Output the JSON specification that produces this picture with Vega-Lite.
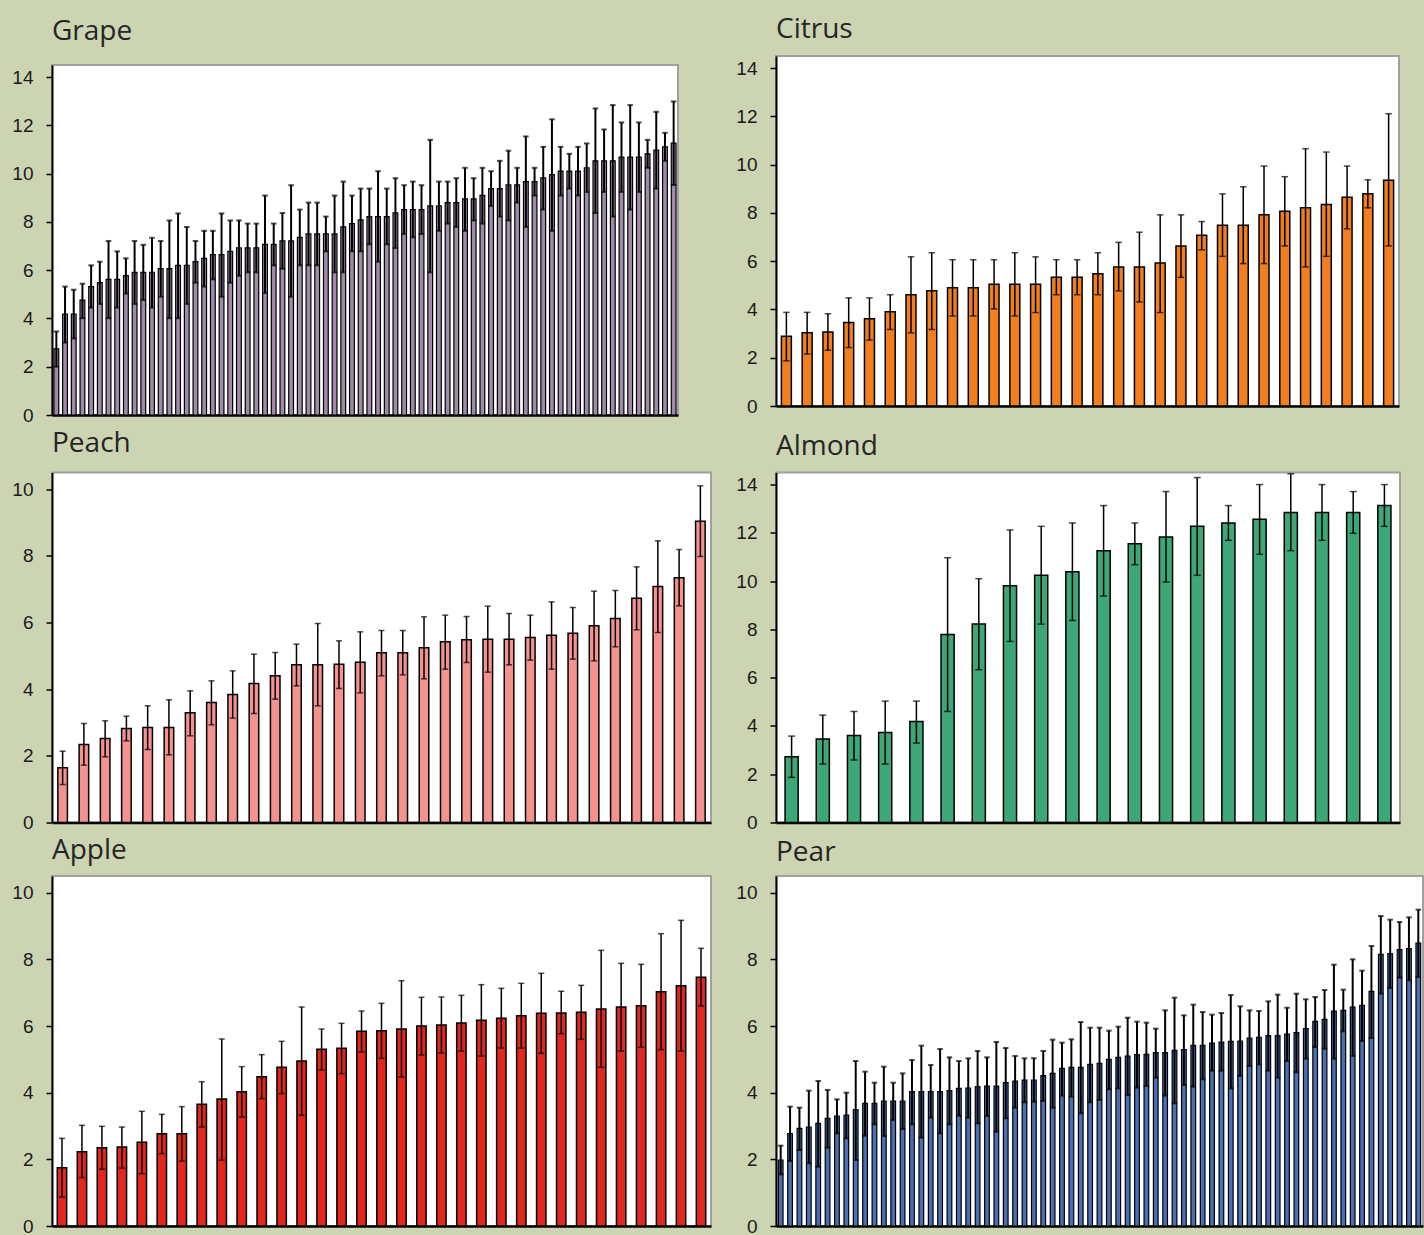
{
"$schema": "https://vega.github.io/schema/vega-lite/v6.json",
"padding": {"left": 10, "top": 15, "right": 0, "bottom": 0},
"background": "#cdd4b2",
"datasets": {
"grape": [
{"i":1,"m":2.74,"lo":2.0,"hi":3.46},{"i":2,"m":4.18,"lo":3.0,"hi":5.32},{"i":3,"m":4.18,"lo":3.17,"hi":5.19},{"i":4,"m":4.76,"lo":4.01,"hi":5.44},{"i":5,"m":5.32,"lo":4.45,"hi":6.2},{"i":6,"m":5.48,"lo":4.6,"hi":6.35},{"i":7,"m":5.62,"lo":4.01,"hi":7.21},{"i":8,"m":5.62,"lo":4.45,"hi":6.78},{"i":9,"m":5.77,"lo":5.03,"hi":6.49},{"i":10,"m":5.91,"lo":4.6,"hi":7.21},
{"i":11,"m":5.91,"lo":4.76,"hi":7.05},{"i":12,"m":5.91,"lo":4.45,"hi":7.34},{"i":13,"m":6.06,"lo":4.9,"hi":7.21},{"i":14,"m":6.06,"lo":4.01,"hi":8.06},{"i":15,"m":6.2,"lo":4.01,"hi":8.35},{"i":16,"m":6.2,"lo":4.6,"hi":7.79},{"i":17,"m":6.35,"lo":5.48,"hi":7.21},{"i":18,"m":6.49,"lo":5.32,"hi":7.63},{"i":19,"m":6.64,"lo":5.62,"hi":7.63},{"i":20,"m":6.64,"lo":4.9,"hi":8.35},
{"i":21,"m":6.78,"lo":5.48,"hi":8.06},{"i":22,"m":6.92,"lo":5.77,"hi":8.06},{"i":23,"m":6.92,"lo":5.91,"hi":7.93},{"i":24,"m":6.92,"lo":5.91,"hi":7.93},{"i":25,"m":7.07,"lo":5.05,"hi":9.09},{"i":26,"m":7.07,"lo":6.2,"hi":7.93},{"i":27,"m":7.21,"lo":6.06,"hi":8.37},{"i":28,"m":7.21,"lo":4.9,"hi":9.52},{"i":29,"m":7.36,"lo":6.2,"hi":8.51},{"i":30,"m":7.5,"lo":6.2,"hi":8.8},
{"i":31,"m":7.5,"lo":6.2,"hi":8.8},{"i":32,"m":7.5,"lo":6.78,"hi":8.22},{"i":33,"m":7.5,"lo":5.91,"hi":9.09},{"i":34,"m":7.79,"lo":5.91,"hi":9.67},{"i":35,"m":7.93,"lo":6.78,"hi":9.09},{"i":36,"m":8.08,"lo":6.78,"hi":9.38},{"i":37,"m":8.22,"lo":7.07,"hi":9.38},{"i":38,"m":8.22,"lo":6.35,"hi":10.1},{"i":39,"m":8.22,"lo":7.07,"hi":9.38},{"i":40,"m":8.37,"lo":6.92,"hi":9.81},
{"i":41,"m":8.51,"lo":7.5,"hi":9.52},{"i":42,"m":8.51,"lo":7.36,"hi":9.67},{"i":43,"m":8.51,"lo":7.5,"hi":9.52},{"i":44,"m":8.66,"lo":5.91,"hi":11.4},{"i":45,"m":8.66,"lo":7.63,"hi":9.67},{"i":46,"m":8.8,"lo":7.93,"hi":9.67},{"i":47,"m":8.8,"lo":7.79,"hi":9.81},{"i":48,"m":8.95,"lo":7.63,"hi":10.24},{"i":49,"m":8.95,"lo":8.06,"hi":9.81},{"i":50,"m":9.1,"lo":7.93,"hi":10.24},
{"i":51,"m":9.38,"lo":8.66,"hi":10.1},{"i":52,"m":9.38,"lo":8.22,"hi":10.53},{"i":53,"m":9.53,"lo":8.06,"hi":10.95},{"i":54,"m":9.53,"lo":8.8,"hi":10.24},{"i":55,"m":9.67,"lo":7.79,"hi":11.54},{"i":56,"m":9.67,"lo":9.09,"hi":10.24},{"i":57,"m":9.82,"lo":8.51,"hi":11.11},{"i":58,"m":9.96,"lo":7.63,"hi":12.25},{"i":59,"m":10.1,"lo":9.09,"hi":11.11},{"i":60,"m":10.1,"lo":9.38,"hi":10.82},
{"i":61,"m":10.1,"lo":9.09,"hi":11.11},{"i":62,"m":10.24,"lo":9.24,"hi":11.25},{"i":63,"m":10.53,"lo":8.37,"hi":12.7},{"i":64,"m":10.53,"lo":9.24,"hi":11.83},{"i":65,"m":10.53,"lo":8.22,"hi":12.84},{"i":66,"m":10.68,"lo":9.24,"hi":12.12},{"i":67,"m":10.68,"lo":8.51,"hi":12.84},{"i":68,"m":10.68,"lo":9.24,"hi":12.12},{"i":69,"m":10.82,"lo":10.24,"hi":11.4},{"i":70,"m":10.97,"lo":9.38,"hi":12.56},
{"i":71,"m":11.11,"lo":10.53,"hi":11.69},{"i":72,"m":11.26,"lo":9.53,"hi":12.99}
],
"citrus": [
{"i":1,"m":2.89,"lo":1.87,"hi":3.88},{"i":2,"m":3.03,"lo":2.15,"hi":3.88},{"i":3,"m":3.07,"lo":2.31,"hi":3.82},{"i":4,"m":3.46,"lo":2.42,"hi":4.48},{"i":5,"m":3.61,"lo":2.73,"hi":4.48},{"i":6,"m":3.9,"lo":3.17,"hi":4.61},{"i":7,"m":4.61,"lo":3.03,"hi":6.18},{"i":8,"m":4.77,"lo":3.17,"hi":6.35},{"i":9,"m":4.9,"lo":3.73,"hi":6.06},{"i":10,"m":4.9,"lo":3.73,"hi":6.06},
{"i":11,"m":5.04,"lo":4.02,"hi":6.06},{"i":12,"m":5.04,"lo":3.73,"hi":6.35},{"i":13,"m":5.04,"lo":3.87,"hi":6.18},{"i":14,"m":5.33,"lo":4.61,"hi":6.06},{"i":15,"m":5.33,"lo":4.61,"hi":6.06},{"i":16,"m":5.48,"lo":4.61,"hi":6.35},{"i":17,"m":5.76,"lo":4.77,"hi":6.78},{"i":18,"m":5.76,"lo":4.31,"hi":7.2},{"i":19,"m":5.92,"lo":3.87,"hi":7.92},{"i":20,"m":6.63,"lo":5.33,"hi":7.92},
{"i":21,"m":7.07,"lo":6.47,"hi":7.64},{"i":22,"m":7.49,"lo":6.2,"hi":8.79},{"i":23,"m":7.49,"lo":5.9,"hi":9.08},{"i":24,"m":7.92,"lo":5.9,"hi":9.94},{"i":25,"m":8.07,"lo":6.63,"hi":9.5},{"i":26,"m":8.21,"lo":5.76,"hi":10.66},{"i":27,"m":8.35,"lo":6.2,"hi":10.52},{"i":28,"m":8.65,"lo":7.34,"hi":9.94},{"i":29,"m":8.79,"lo":8.21,"hi":9.37},{"i":30,"m":9.35,"lo":6.63,"hi":12.11}
],
"peach": [
{"i":1,"m":1.64,"lo":1.14,"hi":2.14},{"i":2,"m":2.34,"lo":1.72,"hi":2.97},{"i":3,"m":2.52,"lo":1.97,"hi":3.05},{"i":4,"m":2.82,"lo":2.45,"hi":3.19},{"i":5,"m":2.85,"lo":2.19,"hi":3.5},{"i":6,"m":2.85,"lo":2.03,"hi":3.68},{"i":7,"m":3.29,"lo":2.6,"hi":3.95},{"i":8,"m":3.6,"lo":2.93,"hi":4.25},{"i":9,"m":3.84,"lo":3.13,"hi":4.55},{"i":10,"m":4.17,"lo":3.27,"hi":5.05},
{"i":11,"m":4.4,"lo":3.7,"hi":5.1},{"i":12,"m":4.73,"lo":4.1,"hi":5.35},{"i":13,"m":4.73,"lo":3.5,"hi":5.97},{"i":14,"m":4.75,"lo":4.02,"hi":5.45},{"i":15,"m":4.81,"lo":3.89,"hi":5.72},{"i":16,"m":5.09,"lo":4.4,"hi":5.76},{"i":17,"m":5.09,"lo":4.43,"hi":5.76},{"i":18,"m":5.24,"lo":4.31,"hi":6.17},{"i":19,"m":5.42,"lo":4.6,"hi":6.22},{"i":20,"m":5.48,"lo":4.8,"hi":6.18},
{"i":21,"m":5.5,"lo":4.51,"hi":6.49},{"i":22,"m":5.5,"lo":4.73,"hi":6.27},{"i":23,"m":5.55,"lo":4.87,"hi":6.22},{"i":24,"m":5.62,"lo":4.6,"hi":6.62},{"i":25,"m":5.68,"lo":4.9,"hi":6.45},{"i":26,"m":5.9,"lo":4.85,"hi":6.94},{"i":27,"m":6.12,"lo":5.27,"hi":6.96},{"i":28,"m":6.73,"lo":5.78,"hi":7.67},{"i":29,"m":7.08,"lo":5.7,"hi":8.45},{"i":30,"m":7.34,"lo":6.5,"hi":8.19},
{"i":31,"m":9.04,"lo":7.98,"hi":10.1}
],
"almond": [
{"i":1,"m":2.72,"lo":1.87,"hi":3.58},{"i":2,"m":3.46,"lo":2.42,"hi":4.45},{"i":3,"m":3.6,"lo":2.59,"hi":4.6},{"i":4,"m":3.73,"lo":2.42,"hi":5.03},{"i":5,"m":4.18,"lo":3.29,"hi":5.03},{"i":6,"m":7.79,"lo":4.6,"hi":10.97},{"i":7,"m":8.22,"lo":6.33,"hi":10.1},{"i":8,"m":9.81,"lo":7.5,"hi":12.12},{"i":9,"m":10.24,"lo":8.22,"hi":12.27},{"i":10,"m":10.39,"lo":8.37,"hi":12.41},
{"i":11,"m":11.26,"lo":9.38,"hi":13.13},{"i":12,"m":11.55,"lo":10.68,"hi":12.41},{"i":13,"m":11.83,"lo":9.96,"hi":13.71},{"i":14,"m":12.27,"lo":10.24,"hi":14.29},{"i":15,"m":12.41,"lo":11.69,"hi":13.13},{"i":16,"m":12.56,"lo":11.11,"hi":14.0},{"i":17,"m":12.84,"lo":11.26,"hi":14.45},{"i":18,"m":12.84,"lo":11.69,"hi":14.0},{"i":19,"m":12.84,"lo":11.98,"hi":13.71},{"i":20,"m":13.13,"lo":12.27,"hi":14.0}
],
"apple": [
{"i":1,"m":1.75,"lo":0.87,"hi":2.63},{"i":2,"m":2.23,"lo":1.45,"hi":3.02},{"i":3,"m":2.35,"lo":1.7,"hi":2.99},{"i":4,"m":2.37,"lo":1.74,"hi":2.97},{"i":5,"m":2.51,"lo":1.57,"hi":3.44},{"i":6,"m":2.77,"lo":2.17,"hi":3.35},{"i":7,"m":2.77,"lo":1.95,"hi":3.58},{"i":8,"m":3.65,"lo":2.97,"hi":4.33},{"i":9,"m":3.81,"lo":1.98,"hi":5.61},{"i":10,"m":4.03,"lo":3.27,"hi":4.78},
{"i":11,"m":4.48,"lo":3.82,"hi":5.14},{"i":12,"m":4.76,"lo":3.97,"hi":5.54},{"i":13,"m":4.95,"lo":3.32,"hi":6.57},{"i":14,"m":5.3,"lo":4.68,"hi":5.91},{"i":15,"m":5.33,"lo":4.57,"hi":6.08},{"i":16,"m":5.84,"lo":5.22,"hi":6.45},{"i":17,"m":5.86,"lo":5.03,"hi":6.68},{"i":18,"m":5.91,"lo":4.47,"hi":7.36},{"i":19,"m":6.0,"lo":5.13,"hi":6.86},{"i":20,"m":6.03,"lo":5.19,"hi":6.87},
{"i":21,"m":6.09,"lo":5.25,"hi":6.92},{"i":22,"m":6.17,"lo":5.1,"hi":7.24},{"i":23,"m":6.23,"lo":5.34,"hi":7.13},{"i":24,"m":6.31,"lo":5.34,"hi":7.28},{"i":25,"m":6.38,"lo":5.18,"hi":7.58},{"i":26,"m":6.39,"lo":5.77,"hi":7.04},{"i":27,"m":6.41,"lo":5.6,"hi":7.22},{"i":28,"m":6.51,"lo":4.76,"hi":8.27},{"i":29,"m":6.57,"lo":5.25,"hi":7.88},{"i":30,"m":6.61,"lo":5.36,"hi":7.85},
{"i":31,"m":7.03,"lo":5.29,"hi":8.77},{"i":32,"m":7.21,"lo":5.25,"hi":9.17},{"i":33,"m":7.46,"lo":6.6,"hi":8.33}
],
"pear": [
{"i":1,"m":1.98,"lo":1.55,"hi":2.41},{"i":2,"m":2.77,"lo":1.95,"hi":3.58},{"i":3,"m":2.93,"lo":2.28,"hi":3.55},{"i":4,"m":2.97,"lo":1.88,"hi":4.06},{"i":5,"m":3.08,"lo":1.78,"hi":4.35},{"i":6,"m":3.23,"lo":2.35,"hi":4.08},{"i":7,"m":3.3,"lo":2.78,"hi":3.8},{"i":8,"m":3.33,"lo":2.63,"hi":4.0},{"i":9,"m":3.49,"lo":1.98,"hi":4.95},{"i":10,"m":3.68,"lo":2.71,"hi":4.63},
{"i":11,"m":3.68,"lo":3.05,"hi":4.3},{"i":12,"m":3.75,"lo":2.7,"hi":4.78},{"i":13,"m":3.75,"lo":3.18,"hi":4.3},{"i":14,"m":3.75,"lo":2.91,"hi":4.58},{"i":15,"m":4.03,"lo":3.05,"hi":4.98},{"i":16,"m":4.03,"lo":2.65,"hi":5.41},{"i":17,"m":4.03,"lo":3.25,"hi":4.83},{"i":18,"m":4.03,"lo":2.78,"hi":5.31},{"i":19,"m":4.06,"lo":3.05,"hi":5.06},{"i":20,"m":4.13,"lo":3.31,"hi":4.95},
{"i":21,"m":4.14,"lo":3.25,"hi":5.03},{"i":22,"m":4.18,"lo":3.08,"hi":5.25},{"i":23,"m":4.2,"lo":3.3,"hi":5.06},{"i":24,"m":4.2,"lo":2.83,"hi":5.52},{"i":25,"m":4.3,"lo":3.23,"hi":5.34},{"i":26,"m":4.35,"lo":3.55,"hi":5.1},{"i":27,"m":4.38,"lo":3.71,"hi":5.03},{"i":28,"m":4.38,"lo":3.73,"hi":5.03},{"i":29,"m":4.51,"lo":3.75,"hi":5.25},{"i":30,"m":4.58,"lo":3.55,"hi":5.59},
{"i":31,"m":4.73,"lo":3.91,"hi":5.5},{"i":32,"m":4.76,"lo":3.88,"hi":5.6},{"i":33,"m":4.76,"lo":3.38,"hi":6.12},{"i":34,"m":4.85,"lo":3.71,"hi":5.95},{"i":35,"m":4.88,"lo":3.78,"hi":5.95},{"i":36,"m":5.0,"lo":4.1,"hi":5.86},{"i":37,"m":5.06,"lo":4.13,"hi":5.98},{"i":38,"m":5.1,"lo":3.93,"hi":6.25},{"i":39,"m":5.14,"lo":4.15,"hi":6.13},{"i":40,"m":5.15,"lo":4.2,"hi":6.1},
{"i":41,"m":5.2,"lo":4.45,"hi":5.92},{"i":42,"m":5.2,"lo":3.91,"hi":6.47},{"i":43,"m":5.27,"lo":3.68,"hi":6.85},{"i":44,"m":5.29,"lo":4.23,"hi":6.32},{"i":45,"m":5.42,"lo":4.18,"hi":6.64},{"i":46,"m":5.42,"lo":4.4,"hi":6.42},{"i":47,"m":5.49,"lo":4.66,"hi":6.34},{"i":48,"m":5.52,"lo":4.66,"hi":6.39},{"i":49,"m":5.54,"lo":4.13,"hi":6.93},{"i":50,"m":5.55,"lo":4.5,"hi":6.59},
{"i":51,"m":5.64,"lo":4.8,"hi":6.47},{"i":52,"m":5.66,"lo":4.85,"hi":6.45},{"i":53,"m":5.71,"lo":4.66,"hi":6.74},{"i":54,"m":5.71,"lo":4.45,"hi":6.94},{"i":55,"m":5.76,"lo":4.95,"hi":6.55},{"i":56,"m":5.8,"lo":4.61,"hi":6.97},{"i":57,"m":5.92,"lo":5.02,"hi":6.8},{"i":58,"m":6.14,"lo":5.37,"hi":6.87},{"i":59,"m":6.2,"lo":5.32,"hi":7.08},{"i":60,"m":6.45,"lo":5.02,"hi":7.84},
{"i":61,"m":6.47,"lo":5.84,"hi":7.09},{"i":62,"m":6.57,"lo":5.1,"hi":8.0},{"i":63,"m":6.62,"lo":5.55,"hi":7.66},{"i":64,"m":7.04,"lo":5.64,"hi":8.4},{"i":65,"m":8.15,"lo":6.97,"hi":9.3},{"i":66,"m":8.17,"lo":7.14,"hi":9.19},{"i":67,"m":8.29,"lo":7.45,"hi":9.12},{"i":68,"m":8.32,"lo":7.37,"hi":9.26},{"i":69,"m":8.49,"lo":7.47,"hi":9.49}
]
},
"columns": 2,
"align": "each",
"spacing": {"row": 3.5, "column": 22},
"concat": [
{
"title": {"text": "Grape", "offset": 10},
"spacing": 0,
"vconcat": [
{"width": 626, "height": 8, "view": {"stroke": null, "fill": null}, "data": {"values": []}, "mark": "point"},
{
"width": 626, "height": 350,
"data": {"name": "grape"},
"encoding": {"x": {"field": "i", "type": "ordinal", "title": null, "scale": {"paddingInner": 0.45, "paddingOuter": 0.225}}},
"layer": [
{"mark": {"type": "bar", "fill": "#a08aa9", "stroke": "#000", "strokeWidth": 1.2}, "encoding": {"y": {"field": "m", "type": "quantitative", "title": null, "scale": {"domain": [0, 14.5], "nice": false}, "axis": {"values": [0,2,4,6,8,10,12,14]}}}},
{"mark": {"type": "rule", "color": "#000", "strokeWidth": 2}, "encoding": {"y": {"field": "lo", "type": "quantitative", "title": null}, "y2": {"field": "hi"}}},
{"mark": {"type": "tick", "color": "#000", "size": 5.5, "thickness": 2}, "encoding": {"y": {"field": "hi", "type": "quantitative", "title": null}}},
{"mark": {"type": "tick", "color": "#000", "size": 5.5, "thickness": 2}, "encoding": {"y": {"field": "lo", "type": "quantitative", "title": null}}}
]
}
]
},
{
"width": 623, "height": 350,
"title": {"text": "Citrus", "offset": 12},
"data": {"name": "citrus"},
"encoding": {"x": {"field": "i", "type": "ordinal", "title": null, "scale": {"paddingInner": 0.52, "paddingOuter": 0.26}}},
"layer": [
{"mark": {"type": "bar", "fill": "#f17f1f", "stroke": "#000", "strokeWidth": 1.5}, "encoding": {"y": {"field": "m", "type": "quantitative", "title": null, "scale": {"domain": [0, 14.5], "nice": false}, "axis": {"values": [0,2,4,6,8,10,12,14]}}}},
{"mark": {"type": "rule", "color": "#000", "strokeWidth": 1.5}, "encoding": {"y": {"field": "lo", "type": "quantitative", "title": null}, "y2": {"field": "hi"}}},
{"mark": {"type": "tick", "color": "#000", "size": 6.5, "thickness": 1.5}, "encoding": {"y": {"field": "hi", "type": "quantitative", "title": null}}},
{"mark": {"type": "tick", "color": "#000", "size": 6.5, "thickness": 1.5}, "encoding": {"y": {"field": "lo", "type": "quantitative", "title": null}}}
]
},
{
"title": {"text": "Peach", "offset": 14},
"vconcat": [
{
"width": 659, "height": 350,
"data": {"name": "peach"},
"encoding": {"x": {"field": "i", "type": "ordinal", "title": null, "scale": {"paddingInner": 0.55, "paddingOuter": 0.275}}},
"layer": [
{"mark": {"type": "bar", "fill": "#f4928f", "stroke": "#000", "strokeWidth": 1.5}, "encoding": {"y": {"field": "m", "type": "quantitative", "title": null, "scale": {"domain": [0, 10.5], "nice": false}, "axis": {"values": [0,2,4,6,8,10]}}}},
{"mark": {"type": "rule", "color": "#000", "strokeWidth": 1.5}, "encoding": {"y": {"field": "lo", "type": "quantitative", "title": null}, "y2": {"field": "hi"}}},
{"mark": {"type": "tick", "color": "#000", "size": 6, "thickness": 1.5}, "encoding": {"y": {"field": "hi", "type": "quantitative", "title": null}}},
{"mark": {"type": "tick", "color": "#000", "size": 6, "thickness": 1.5}, "encoding": {"y": {"field": "lo", "type": "quantitative", "title": null}}}
]
}
]
},
{
"width": 624, "height": 350,
"title": {"text": "Almond", "offset": 12},
"data": {"name": "almond"},
"encoding": {"x": {"field": "i", "type": "ordinal", "title": null, "scale": {"paddingInner": 0.58, "paddingOuter": 0.29}}},
"layer": [
{"mark": {"type": "bar", "fill": "#3ea777", "stroke": "#000", "strokeWidth": 1.5}, "encoding": {"y": {"field": "m", "type": "quantitative", "title": null, "scale": {"domain": [0, 14.5], "nice": false}, "axis": {"values": [0,2,4,6,8,10,12,14]}}}},
{"mark": {"type": "rule", "color": "#000", "strokeWidth": 1.5}, "encoding": {"y": {"field": "lo", "type": "quantitative", "title": null}, "y2": {"field": "hi"}}},
{"mark": {"type": "tick", "color": "#000", "size": 7, "thickness": 1.5}, "encoding": {"y": {"field": "hi", "type": "quantitative", "title": null}}},
{"mark": {"type": "tick", "color": "#000", "size": 7, "thickness": 1.5}, "encoding": {"y": {"field": "lo", "type": "quantitative", "title": null}}}
]
},
{
"title": {"text": "Apple", "offset": 10},
"vconcat": [
{
"width": 659, "height": 350,
"data": {"name": "apple"},
"encoding": {"x": {"field": "i", "type": "ordinal", "title": null, "scale": {"paddingInner": 0.53, "paddingOuter": 0.265}}},
"layer": [
{"mark": {"type": "bar", "fill": "#e2271f", "stroke": "#000", "strokeWidth": 1.5}, "encoding": {"y": {"field": "m", "type": "quantitative", "title": null, "scale": {"domain": [0, 10.5], "nice": false}, "axis": {"values": [0,2,4,6,8,10]}}}},
{"mark": {"type": "rule", "color": "#000", "strokeWidth": 1.5}, "encoding": {"y": {"field": "lo", "type": "quantitative", "title": null}, "y2": {"field": "hi"}}},
{"mark": {"type": "tick", "color": "#000", "size": 6, "thickness": 1.5}, "encoding": {"y": {"field": "hi", "type": "quantitative", "title": null}}},
{"mark": {"type": "tick", "color": "#000", "size": 6, "thickness": 1.5}, "encoding": {"y": {"field": "lo", "type": "quantitative", "title": null}}}
]
}
]
},
{
"width": 647, "height": 350,
"title": {"text": "Pear", "offset": 9},
"data": {"name": "pear"},
"encoding": {"x": {"field": "i", "type": "ordinal", "title": null, "scale": {"paddingInner": 0.5, "paddingOuter": 0.25}}},
"layer": [
{"mark": {"type": "bar", "fill": "#4a6fb2", "stroke": "#000", "strokeWidth": 1.2}, "encoding": {"y": {"field": "m", "type": "quantitative", "title": null, "scale": {"domain": [0, 10.5], "nice": false}, "axis": {"values": [0,2,4,6,8,10]}}}},
{"mark": {"type": "rule", "color": "#000", "strokeWidth": 2}, "encoding": {"y": {"field": "lo", "type": "quantitative", "title": null}, "y2": {"field": "hi"}}},
{"mark": {"type": "tick", "color": "#000", "size": 5.5, "thickness": 2}, "encoding": {"y": {"field": "hi", "type": "quantitative", "title": null}}},
{"mark": {"type": "tick", "color": "#000", "size": 5.5, "thickness": 2}, "encoding": {"y": {"field": "lo", "type": "quantitative", "title": null}}}
]
}
],
"config": {
"view": {"fill": "white", "stroke": "#a0a0a0", "strokeWidth": 2},
"axisY": {"domainColor": "#000", "domainWidth": 2, "tickColor": "#000", "tickWidth": 1.5, "tickSize": 6, "labelFont": "Liberation Sans", "labelFontSize": 19, "labelColor": "#1a1a1a", "labelPadding": 13, "grid": false, "minExtent": 40},
"axisX": {"domainColor": "#000", "domainWidth": 2.5, "ticks": false, "labels": false, "grid": false},
"title": {"font": "Open Sans", "fontSize": 28, "fontWeight": "normal", "color": "#262626", "anchor": "start", "frame": "group"}
}
}
